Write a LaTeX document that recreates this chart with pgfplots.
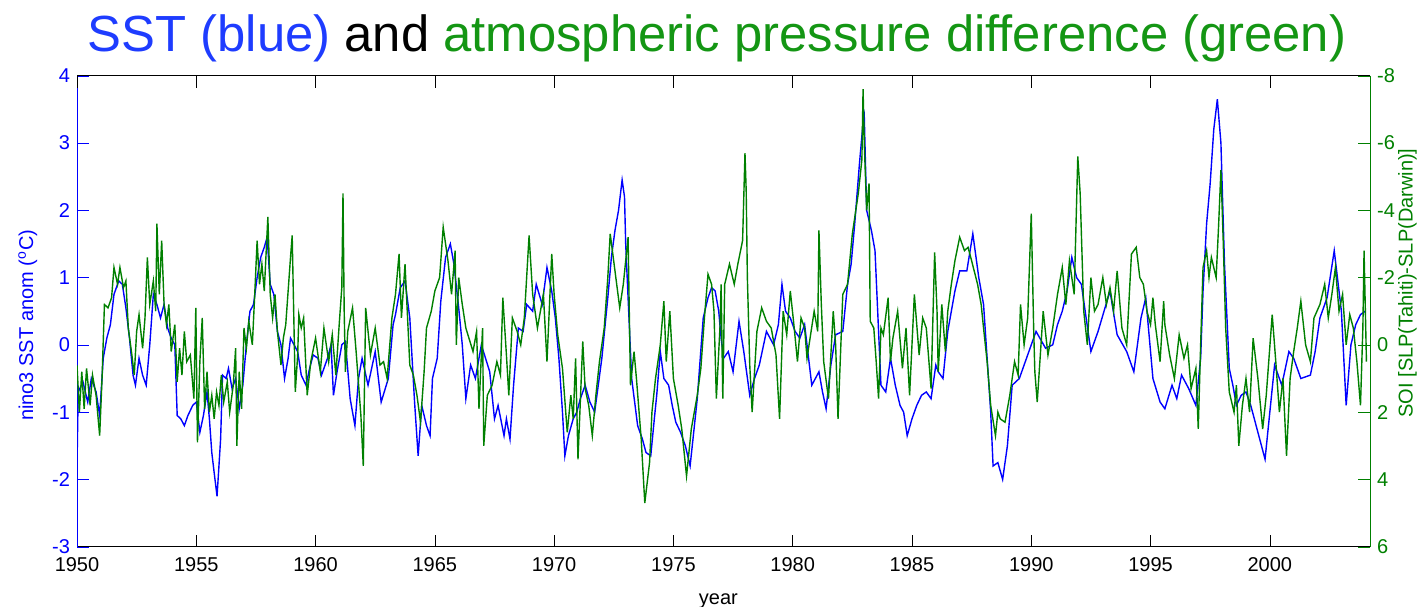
\documentclass[border=0pt]{standalone}
\usepackage{pgfplots}
\pgfplotsset{compat=1.18}
\usepackage{fontspec}
\setmainfont{Liberation Sans}
\definecolor{sstblue}{RGB}{0,0,255}
\definecolor{soigreen}{RGB}{0,128,0}
\definecolor{titleblue}{RGB}{30,60,255}
\definecolor{titlegreen}{RGB}{20,150,20}
\begin{document}
\begin{tikzpicture}
\path[use as bounding box] (-38.5pt,-29.65pt) rectangle (672.5pt,273.35pt);
\pgfplotsset{common/.style={
  scale only axis, width=646.5pt, height=235.5pt,
  at={(0,0)}, anchor=south west,
  xmin=1950, xmax=2004.2,
  xtick={1950,1955,...,2000},
  tick align=inside,
  major tick length=6pt,
  /pgf/number format/assume math mode=true,
  /pgf/number format/1000 sep={},
  tick label style={font=\fontsize{10}{12}\selectfont},
  label style={font=\fontsize{10}{12}\selectfont},
}}
\begin{axis}[common,
  axis x line*=bottom, axis y line*=left,
  ymin=-3, ymax=4, ytick={-3,-2,...,4},
  x axis line style={black},
  y axis line style={sstblue},
  ytick style={sstblue}, yticklabel style={sstblue},
  xtick style={black},
  xticklabel style={yshift=-2pt},
  xlabel={year},
  ylabel={nino3 SST anom (\textsuperscript{o}C)},
  every axis x label/.style={at={(axis description cs:0.496,0)}, yshift=-27pt, anchor=center},
  every axis y label/.style={at={(axis description cs:-0.038,0.47)}, rotate=90, anchor=center, text=sstblue},
]
\addplot[sstblue, line width=0.7pt] table[row sep=\\] {
t v\\
1950.00 -1.8\\ 1950.05 -0.7\\ 1950.25 -0.55\\ 1950.45 -0.85\\ 1950.6 -0.5\\ 1950.8 -0.7\\ 1950.95 -1.05\\
1951.1 -0.2\\ 1951.25 0.1\\ 1951.4 0.3\\ 1951.55 0.75\\ 1951.75 0.95\\ 1951.9 0.9\\
1952.05 0.55\\ 1952.2 0.1\\ 1952.35 -0.45\\ 1952.45 -0.6\\ 1952.6 -0.2\\ 1952.75 -0.45\\ 1952.9 -0.6\\
1953.05 0.0\\ 1953.2 0.75\\ 1953.35 0.6\\ 1953.5 0.4\\ 1953.65 0.6\\ 1953.8 0.25\\ 1953.95 0.1\\
1954.1 0.0\\ 1954.2 -1.05\\ 1954.35 -1.1\\ 1954.5 -1.2\\ 1954.65 -1.05\\ 1954.85 -0.9\\
1955.0 -0.85\\ 1955.15 -1.3\\ 1955.3 -1.05\\ 1955.45 -0.7\\ 1955.55 -1.1\\ 1955.65 -1.6\\ 1955.75 -1.9\\ 1955.87 -2.25\\ 1955.95 -1.8\\
1956.02 -1.4\\ 1956.1 -0.45\\ 1956.25 -0.5\\ 1956.35 -0.35\\ 1956.5 -0.65\\ 1956.65 -0.5\\ 1956.8 -0.95\\ 1956.95 -0.6\\
1957.1 0.0\\ 1957.25 0.5\\ 1957.4 0.6\\ 1957.55 1.0\\ 1957.7 1.3\\ 1957.85 1.45\\ 1957.97 1.6\\
1958.1 0.9\\ 1958.25 0.75\\ 1958.4 0.2\\ 1958.55 0.0\\ 1958.7 -0.5\\ 1958.85 -0.2\\ 1958.95 0.1\\
1959.1 0.0\\ 1959.25 -0.1\\ 1959.4 -0.45\\ 1959.6 -0.6\\ 1959.75 -0.35\\ 1959.9 -0.15\\
1960.1 -0.2\\ 1960.25 -0.45\\ 1960.5 -0.2\\ 1960.65 0.0\\ 1960.75 -0.75\\ 1960.9 -0.4\\
1961.1 0.0\\ 1961.25 0.05\\ 1961.45 -0.8\\ 1961.65 -1.2\\ 1961.8 -0.5\\ 1961.95 -0.2\\
1962.2 -0.6\\ 1962.5 -0.1\\ 1962.75 -0.85\\ 1963.05 -0.5\\ 1963.25 0.3\\ 1963.35 0.45\\ 1963.55 0.85\\ 1963.75 0.95\\ 1963.95 0.4\\
1964.15 -0.85\\ 1964.3 -1.65\\ 1964.45 -0.9\\ 1964.65 -1.2\\ 1964.8 -1.35\\ 1964.9 -0.5\\
1965.1 -0.2\\ 1965.25 0.65\\ 1965.45 1.3\\ 1965.65 1.5\\ 1965.8 1.2\\
1966.0 0.55\\ 1966.15 0.0\\ 1966.3 -0.8\\ 1966.5 -0.3\\ 1966.7 -0.5\\ 1966.95 0.0\\
1967.3 -0.4\\ 1967.5 -1.1\\ 1967.65 -0.9\\ 1967.9 -1.35\\
1968.0 -1.1\\ 1968.15 -1.4\\ 1968.3 -0.6\\ 1968.5 0.25\\ 1968.7 0.2\\ 1968.85 0.6\\
1969.1 0.5\\ 1969.25 0.9\\ 1969.5 0.6\\ 1969.7 1.15\\ 1969.9 0.8\\
1970.05 0.4\\ 1970.2 -0.2\\ 1970.35 -1.0\\ 1970.45 -1.65\\ 1970.6 -1.35\\ 1970.8 -1.1\\ 1970.95 -1.0\\
1971.1 -0.8\\ 1971.3 -0.6\\ 1971.5 -0.85\\ 1971.7 -1.0\\ 1971.85 -0.6\\
1972.0 -0.2\\ 1972.25 0.7\\ 1972.4 1.3\\ 1972.55 1.7\\ 1972.7 2.0\\ 1972.85 2.45\\ 1972.95 2.2\\
1973.0 1.5\\ 1973.1 0.7\\ 1973.25 -0.5\\ 1973.5 -1.2\\ 1973.7 -1.4\\ 1973.85 -1.6\\
1974.05 -1.65\\ 1974.2 -1.1\\ 1974.3 -0.75\\ 1974.45 -0.1\\ 1974.6 -0.5\\ 1974.8 -0.6\\ 1974.95 -0.9\\
1975.1 -1.15\\ 1975.3 -1.3\\ 1975.5 -1.5\\ 1975.7 -1.8\\ 1975.85 -1.3\\
1976.0 -0.8\\ 1976.25 0.4\\ 1976.45 0.7\\ 1976.6 0.85\\ 1976.75 0.8\\ 1976.9 0.5\\
1977.0 0.1\\ 1977.1 -0.2\\ 1977.3 -0.1\\ 1977.5 -0.4\\ 1977.75 0.35\\ 1977.95 -0.1\\
1978.2 -0.75\\ 1978.4 -0.5\\ 1978.6 -0.3\\ 1978.9 0.2\\
1979.2 0.0\\ 1979.4 0.3\\ 1979.55 0.9\\ 1979.7 0.5\\ 1979.9 0.4\\
1980.1 0.2\\ 1980.3 0.1\\ 1980.5 0.3\\ 1980.8 -0.6\\
1981.1 -0.4\\ 1981.25 -0.7\\ 1981.4 -0.95\\ 1981.6 -0.3\\ 1981.8 0.15\\
1982.1 0.2\\ 1982.3 0.9\\ 1982.45 1.2\\ 1982.6 1.8\\ 1982.8 2.7\\ 1982.95 3.3\\
1983.0 3.4\\ 1983.1 2.0\\ 1983.3 1.7\\ 1983.45 1.4\\ 1983.55 0.6\\ 1983.7 -0.6\\ 1983.9 -0.7\\
1984.1 -0.2\\ 1984.3 -0.6\\ 1984.5 -0.9\\ 1984.65 -1.0\\ 1984.8 -1.35\\
1985.0 -1.1\\ 1985.2 -0.9\\ 1985.4 -0.75\\ 1985.6 -0.7\\ 1985.8 -0.8\\
1986.0 -0.3\\ 1986.1 -0.4\\ 1986.3 -0.5\\ 1986.5 0.2\\ 1986.8 0.8\\
1987.0 1.1\\ 1987.3 1.1\\ 1987.55 1.65\\ 1987.8 1.0\\
1988.0 0.6\\ 1988.15 -0.2\\ 1988.3 -1.0\\ 1988.4 -1.8\\ 1988.6 -1.75\\ 1988.8 -2.0\\
1989.0 -1.5\\ 1989.2 -0.6\\ 1989.5 -0.5\\ 1989.8 -0.2\\
1990.2 0.2\\ 1990.6 -0.05\\ 1990.9 0.0\\
1991.1 0.3\\ 1991.3 0.5\\ 1991.5 0.8\\ 1991.7 1.3\\ 1991.9 1.0\\
1992.1 0.9\\ 1992.3 0.4\\ 1992.5 -0.1\\ 1992.8 0.2\\
1993.05 0.5\\ 1993.3 0.8\\ 1993.6 0.15\\
1994.0 -0.1\\ 1994.3 -0.4\\ 1994.6 0.4\\ 1994.8 0.7\\ 1994.95 0.1\\
1995.1 -0.5\\ 1995.4 -0.85\\ 1995.6 -0.95\\ 1995.9 -0.6\\
1996.1 -0.8\\ 1996.3 -0.45\\ 1996.6 -0.65\\ 1996.9 -0.9\\
1997.1 -0.2\\ 1997.2 0.8\\ 1997.35 1.8\\ 1997.5 2.4\\ 1997.65 3.2\\ 1997.8 3.65\\ 1997.95 3.0\\
1998.1 1.2\\ 1998.3 -0.35\\ 1998.45 -0.6\\ 1998.6 -0.9\\ 1998.8 -0.75\\
1999.0 -0.7\\ 1999.2 -0.9\\ 1999.5 -1.3\\ 1999.8 -1.7\\
2000.0 -1.0\\ 2000.2 -0.3\\ 2000.5 -0.6\\ 2000.8 -0.1\\
2001.0 -0.2\\ 2001.3 -0.5\\ 2001.7 -0.45\\ 2001.9 -0.1\\
2002.1 0.4\\ 2002.4 0.7\\ 2002.7 1.4\\
2003.0 0.5\\ 2003.2 -0.9\\ 2003.4 0.0\\ 2003.6 0.3\\ 2003.8 0.45\\ 2004.0 0.5\\
};
\end{axis}
\begin{axis}[common,
  axis x line*=top, axis y line*=right,
  xticklabels={},
  ymin=-8, ymax=6, y dir=reverse, ytick={-8,-6,...,6},
  x axis line style={black}, xtick style={black},
  y axis line style={soigreen},
  ytick style={soigreen}, yticklabel style={soigreen},
  ylabel={SOI [SLP(Tahiti)-SLP(Darwin)]},
  every axis y label/.style={at={(axis description cs:1.029,0.56)}, rotate=90, anchor=center, text=soigreen},
]
\addplot[soigreen, line width=0.7pt] table[row sep=\\] {
t v\\
1950.0 0.6\\ 1950.1 2.0\\ 1950.2 0.8\\ 1950.3 1.9\\ 1950.4 0.7\\ 1950.55 1.8\\ 1950.65 0.9\\ 1950.8 1.5\\ 1950.95 2.7\\
1951.05 1.0\\ 1951.15 -1.2\\ 1951.3 -1.1\\ 1951.45 -1.4\\ 1951.55 -2.3\\ 1951.7 -1.8\\ 1951.8 -2.3\\ 1951.95 -1.7\\
1952.05 -1.9\\ 1952.15 -0.5\\ 1952.3 0.3\\ 1952.4 0.9\\ 1952.5 -0.4\\ 1952.6 -0.9\\ 1952.75 0.1\\ 1952.85 -0.8\\ 1952.95 -2.6\\
1953.05 -1.2\\ 1953.2 -1.9\\ 1953.3 -1.0\\ 1953.35 -3.6\\ 1953.45 -1.5\\ 1953.55 -3.1\\ 1953.65 -1.2\\ 1953.75 -0.6\\ 1953.85 -1.2\\ 1953.95 0.2\\
1954.1 -0.6\\ 1954.2 1.1\\ 1954.3 0.1\\ 1954.4 0.9\\ 1954.5 -0.4\\ 1954.6 0.5\\ 1954.75 0.3\\ 1954.9 1.6\\ 1954.98 -1.1\\
1955.05 2.9\\ 1955.15 0.5\\ 1955.25 -0.8\\ 1955.35 1.9\\ 1955.45 0.8\\ 1955.55 2.0\\ 1955.65 1.5\\ 1955.75 2.2\\ 1955.85 1.4\\ 1955.95 1.8\\
1956.05 0.9\\ 1956.15 1.7\\ 1956.3 1.1\\ 1956.4 2.0\\ 1956.55 1.2\\ 1956.65 0.1\\ 1956.7 3.0\\ 1956.8 0.8\\ 1956.9 1.9\\
1957.0 -0.5\\ 1957.1 0.1\\ 1957.2 -0.7\\ 1957.35 0.0\\ 1957.45 -1.5\\ 1957.55 -3.1\\ 1957.65 -1.8\\ 1957.75 -2.4\\ 1957.85 -1.6\\
1958.0 -3.8\\ 1958.1 -1.5\\ 1958.2 -0.8\\ 1958.3 -1.5\\ 1958.4 -0.4\\ 1958.55 0.6\\ 1958.65 -0.2\\ 1958.75 -0.6\\ 1958.85 -1.6\\ 1958.95 -2.6\\
1959.02 -3.25\\ 1959.15 1.4\\ 1959.25 0.3\\ 1959.3 -0.9\\ 1959.4 -0.5\\ 1959.5 -0.8\\ 1959.65 1.5\\ 1959.8 0.5\\
1960.0 -0.2\\ 1960.2 0.8\\ 1960.35 -0.5\\ 1960.55 0.5\\ 1960.7 -0.3\\ 1960.85 0.9\\
1961.0 -0.7\\ 1961.1 -1.7\\ 1961.15 -4.5\\ 1961.2 -1.0\\ 1961.25 0.8\\ 1961.35 -0.4\\ 1961.55 -1.1\\ 1961.7 0.2\\ 1961.9 2.1\\
1962.0 3.6\\ 1962.1 -1.1\\ 1962.3 0.3\\ 1962.5 -0.5\\ 1962.7 0.6\\ 1962.85 0.5\\
1963.0 1.0\\ 1963.2 -0.8\\ 1963.35 -1.5\\ 1963.5 -2.7\\ 1963.6 -0.8\\ 1963.75 -2.4\\ 1963.95 0.6\\
1964.1 0.9\\ 1964.25 1.5\\ 1964.4 2.3\\ 1964.55 0.8\\ 1964.65 -0.5\\ 1964.85 -1.0\\
1965.0 -1.6\\ 1965.2 -2.0\\ 1965.35 -3.5\\ 1965.55 -2.5\\ 1965.7 -1.5\\ 1965.85 -2.8\\ 1965.9 0.0\\
1966.0 -2.0\\ 1966.15 -1.2\\ 1966.3 -0.5\\ 1966.6 0.2\\ 1966.75 -0.4\\ 1966.85 1.9\\
1967.0 -0.5\\ 1967.05 3.0\\ 1967.2 1.5\\ 1967.4 1.2\\ 1967.6 0.5\\ 1967.75 0.9\\ 1967.85 -1.4\\
1968.0 0.3\\ 1968.1 1.5\\ 1968.25 -0.8\\ 1968.45 -0.4\\ 1968.6 0.0\\ 1968.75 -0.8\\ 1968.95 -3.25\\
1969.1 -1.5\\ 1969.3 -0.5\\ 1969.55 -1.5\\ 1969.7 0.5\\ 1969.9 -2.7\\
1970.0 -1.5\\ 1970.15 -0.3\\ 1970.35 0.7\\ 1970.55 2.6\\ 1970.7 1.5\\ 1970.8 2.2\\ 1970.9 0.4\\
1971.0 3.4\\ 1971.2 -0.1\\ 1971.3 1.3\\ 1971.45 1.8\\ 1971.6 2.7\\ 1971.75 1.5\\ 1971.9 0.5\\
1972.1 -0.5\\ 1972.25 -2.0\\ 1972.35 -3.3\\ 1972.55 -2.2\\ 1972.75 -1.1\\ 1972.9 -1.8\\
1973.1 -3.2\\ 1973.2 1.2\\ 1973.35 0.2\\ 1973.45 1.0\\ 1973.65 2.8\\ 1973.8 4.7\\
1974.0 3.5\\ 1974.1 2.0\\ 1974.25 1.0\\ 1974.45 0.0\\ 1974.6 -1.3\\ 1974.7 0.5\\ 1974.85 -1.0\\
1975.0 1.0\\ 1975.2 1.8\\ 1975.35 2.5\\ 1975.55 3.9\\ 1975.75 2.5\\
1976.0 1.5\\ 1976.15 0.7\\ 1976.3 -0.8\\ 1976.45 -2.1\\ 1976.6 -1.8\\ 1976.7 -1.0\\ 1976.8 1.6\\ 1976.95 -0.5\\
1977.0 -1.8\\ 1977.07 1.6\\ 1977.15 -1.8\\ 1977.35 -2.4\\ 1977.55 -1.8\\ 1977.7 -2.4\\ 1977.9 -3.1\\
1978.0 -5.7\\ 1978.05 -4.6\\ 1978.1 -2.0\\ 1978.2 0.6\\ 1978.3 2.0\\ 1978.5 -0.4\\ 1978.7 -1.1\\ 1978.9 -0.7\\
1979.1 -0.5\\ 1979.3 0.3\\ 1979.45 2.2\\ 1979.6 -1.0\\ 1979.75 -0.3\\ 1979.9 -1.6\\
1980.05 -0.6\\ 1980.2 0.5\\ 1980.35 -0.8\\ 1980.5 -0.5\\ 1980.6 0.4\\ 1980.75 -0.3\\ 1980.9 -1.0\\
1981.05 -0.4\\ 1981.1 -3.4\\ 1981.2 -1.2\\ 1981.3 0.5\\ 1981.5 1.6\\ 1981.7 -1.0\\ 1981.8 0.0\\ 1981.9 2.2\\
1982.1 -1.5\\ 1982.3 -1.8\\ 1982.5 -3.3\\ 1982.75 -4.5\\ 1982.9 -5.5\\ 1982.95 -7.6\\
1983.0 -6.0\\ 1983.1 -4.0\\ 1983.2 -4.8\\ 1983.25 -0.7\\ 1983.4 -0.5\\ 1983.5 0.5\\ 1983.6 1.6\\ 1983.7 -0.5\\ 1983.8 -0.3\\
1984.0 -1.4\\ 1984.1 0.5\\ 1984.2 -0.2\\ 1984.4 -1.0\\ 1984.6 0.7\\ 1984.75 -0.5\\ 1984.9 1.5\\
1985.1 -1.5\\ 1985.3 0.3\\ 1985.45 -0.8\\ 1985.6 -0.5\\ 1985.8 1.3\\ 1985.95 -2.75\\
1986.05 -1.0\\ 1986.1 0.8\\ 1986.25 -1.2\\ 1986.4 0.2\\ 1986.5 -1.0\\ 1986.65 -1.8\\ 1986.8 -2.5\\
1987.0 -3.2\\ 1987.2 -2.8\\ 1987.35 -2.9\\ 1987.5 -2.5\\ 1987.75 -1.8\\ 1987.9 -1.2\\
1988.0 -0.5\\ 1988.15 0.5\\ 1988.3 1.8\\ 1988.5 2.7\\ 1988.6 2.0\\ 1988.7 2.2\\ 1988.9 2.3\\
1989.1 1.5\\ 1989.3 0.5\\ 1989.45 0.9\\ 1989.55 -1.2\\ 1989.7 0.0\\ 1989.85 -0.8\\
1990.0 -3.9\\ 1990.1 -0.5\\ 1990.15 0.8\\ 1990.25 1.7\\ 1990.5 -1.0\\ 1990.7 0.3\\ 1990.9 -0.5\\
1991.1 -1.5\\ 1991.3 -2.3\\ 1991.45 -1.2\\ 1991.6 -2.5\\ 1991.8 -1.5\\ 1991.95 -5.6\\
1992.05 -4.5\\ 1992.2 -1.0\\ 1992.35 0.0\\ 1992.5 -2.0\\ 1992.65 -1.0\\ 1992.8 -1.2\\
1993.0 -2.0\\ 1993.15 -1.2\\ 1993.3 -1.7\\ 1993.45 -1.0\\ 1993.6 -2.2\\ 1993.8 -0.5\\
1994.0 0.0\\ 1994.2 -2.7\\ 1994.4 -2.9\\ 1994.55 -2.0\\ 1994.7 -1.8\\ 1994.85 -1.0\\
1995.0 -0.6\\ 1995.1 -1.4\\ 1995.2 -0.6\\ 1995.4 0.5\\ 1995.55 -1.3\\ 1995.6 -0.6\\ 1995.8 0.3\\
1996.0 1.0\\ 1996.2 -0.3\\ 1996.4 0.4\\ 1996.55 0.0\\ 1996.7 1.3\\ 1996.9 0.7\\
1997.0 2.5\\ 1997.1 0.0\\ 1997.2 -2.3\\ 1997.35 -2.8\\ 1997.45 -2.0\\ 1997.55 -2.6\\ 1997.75 -2.0\\ 1997.85 -3.5\\ 1997.95 -5.2\\
1998.05 -3.0\\ 1998.15 -0.5\\ 1998.3 1.4\\ 1998.5 2.0\\ 1998.6 1.2\\ 1998.7 3.0\\ 1998.85 1.8\\
1999.0 1.0\\ 1999.15 2.0\\ 1999.3 -0.2\\ 1999.5 1.0\\ 1999.7 2.5\\ 1999.85 1.5\\
2000.1 -0.9\\ 2000.25 0.5\\ 2000.4 2.0\\ 2000.55 1.0\\ 2000.7 3.3\\ 2000.85 1.0\\
2001.0 0.2\\ 2001.15 -0.5\\ 2001.3 -1.3\\ 2001.5 0.0\\ 2001.7 0.5\\ 2001.85 -0.8\\
2002.1 -1.2\\ 2002.3 -1.8\\ 2002.45 -0.8\\ 2002.6 -1.5\\ 2002.75 -2.3\\ 2002.9 -1.0\\
2003.05 -1.5\\ 2003.2 0.0\\ 2003.35 -0.9\\ 2003.5 -0.5\\ 2003.65 0.5\\ 2003.8 1.8\\ 2003.9 -0.5\\ 2003.95 -2.8\\ 2004.05 0.5\\
};
\end{axis}
\node[anchor=base, font=\fontsize{25.4}{30}\selectfont] at (320pt,247.35pt) {\textcolor{titleblue}{SST (blue)} and \textcolor{titlegreen}{atmospheric pressure difference (green)}};
\end{tikzpicture}
\end{document}
